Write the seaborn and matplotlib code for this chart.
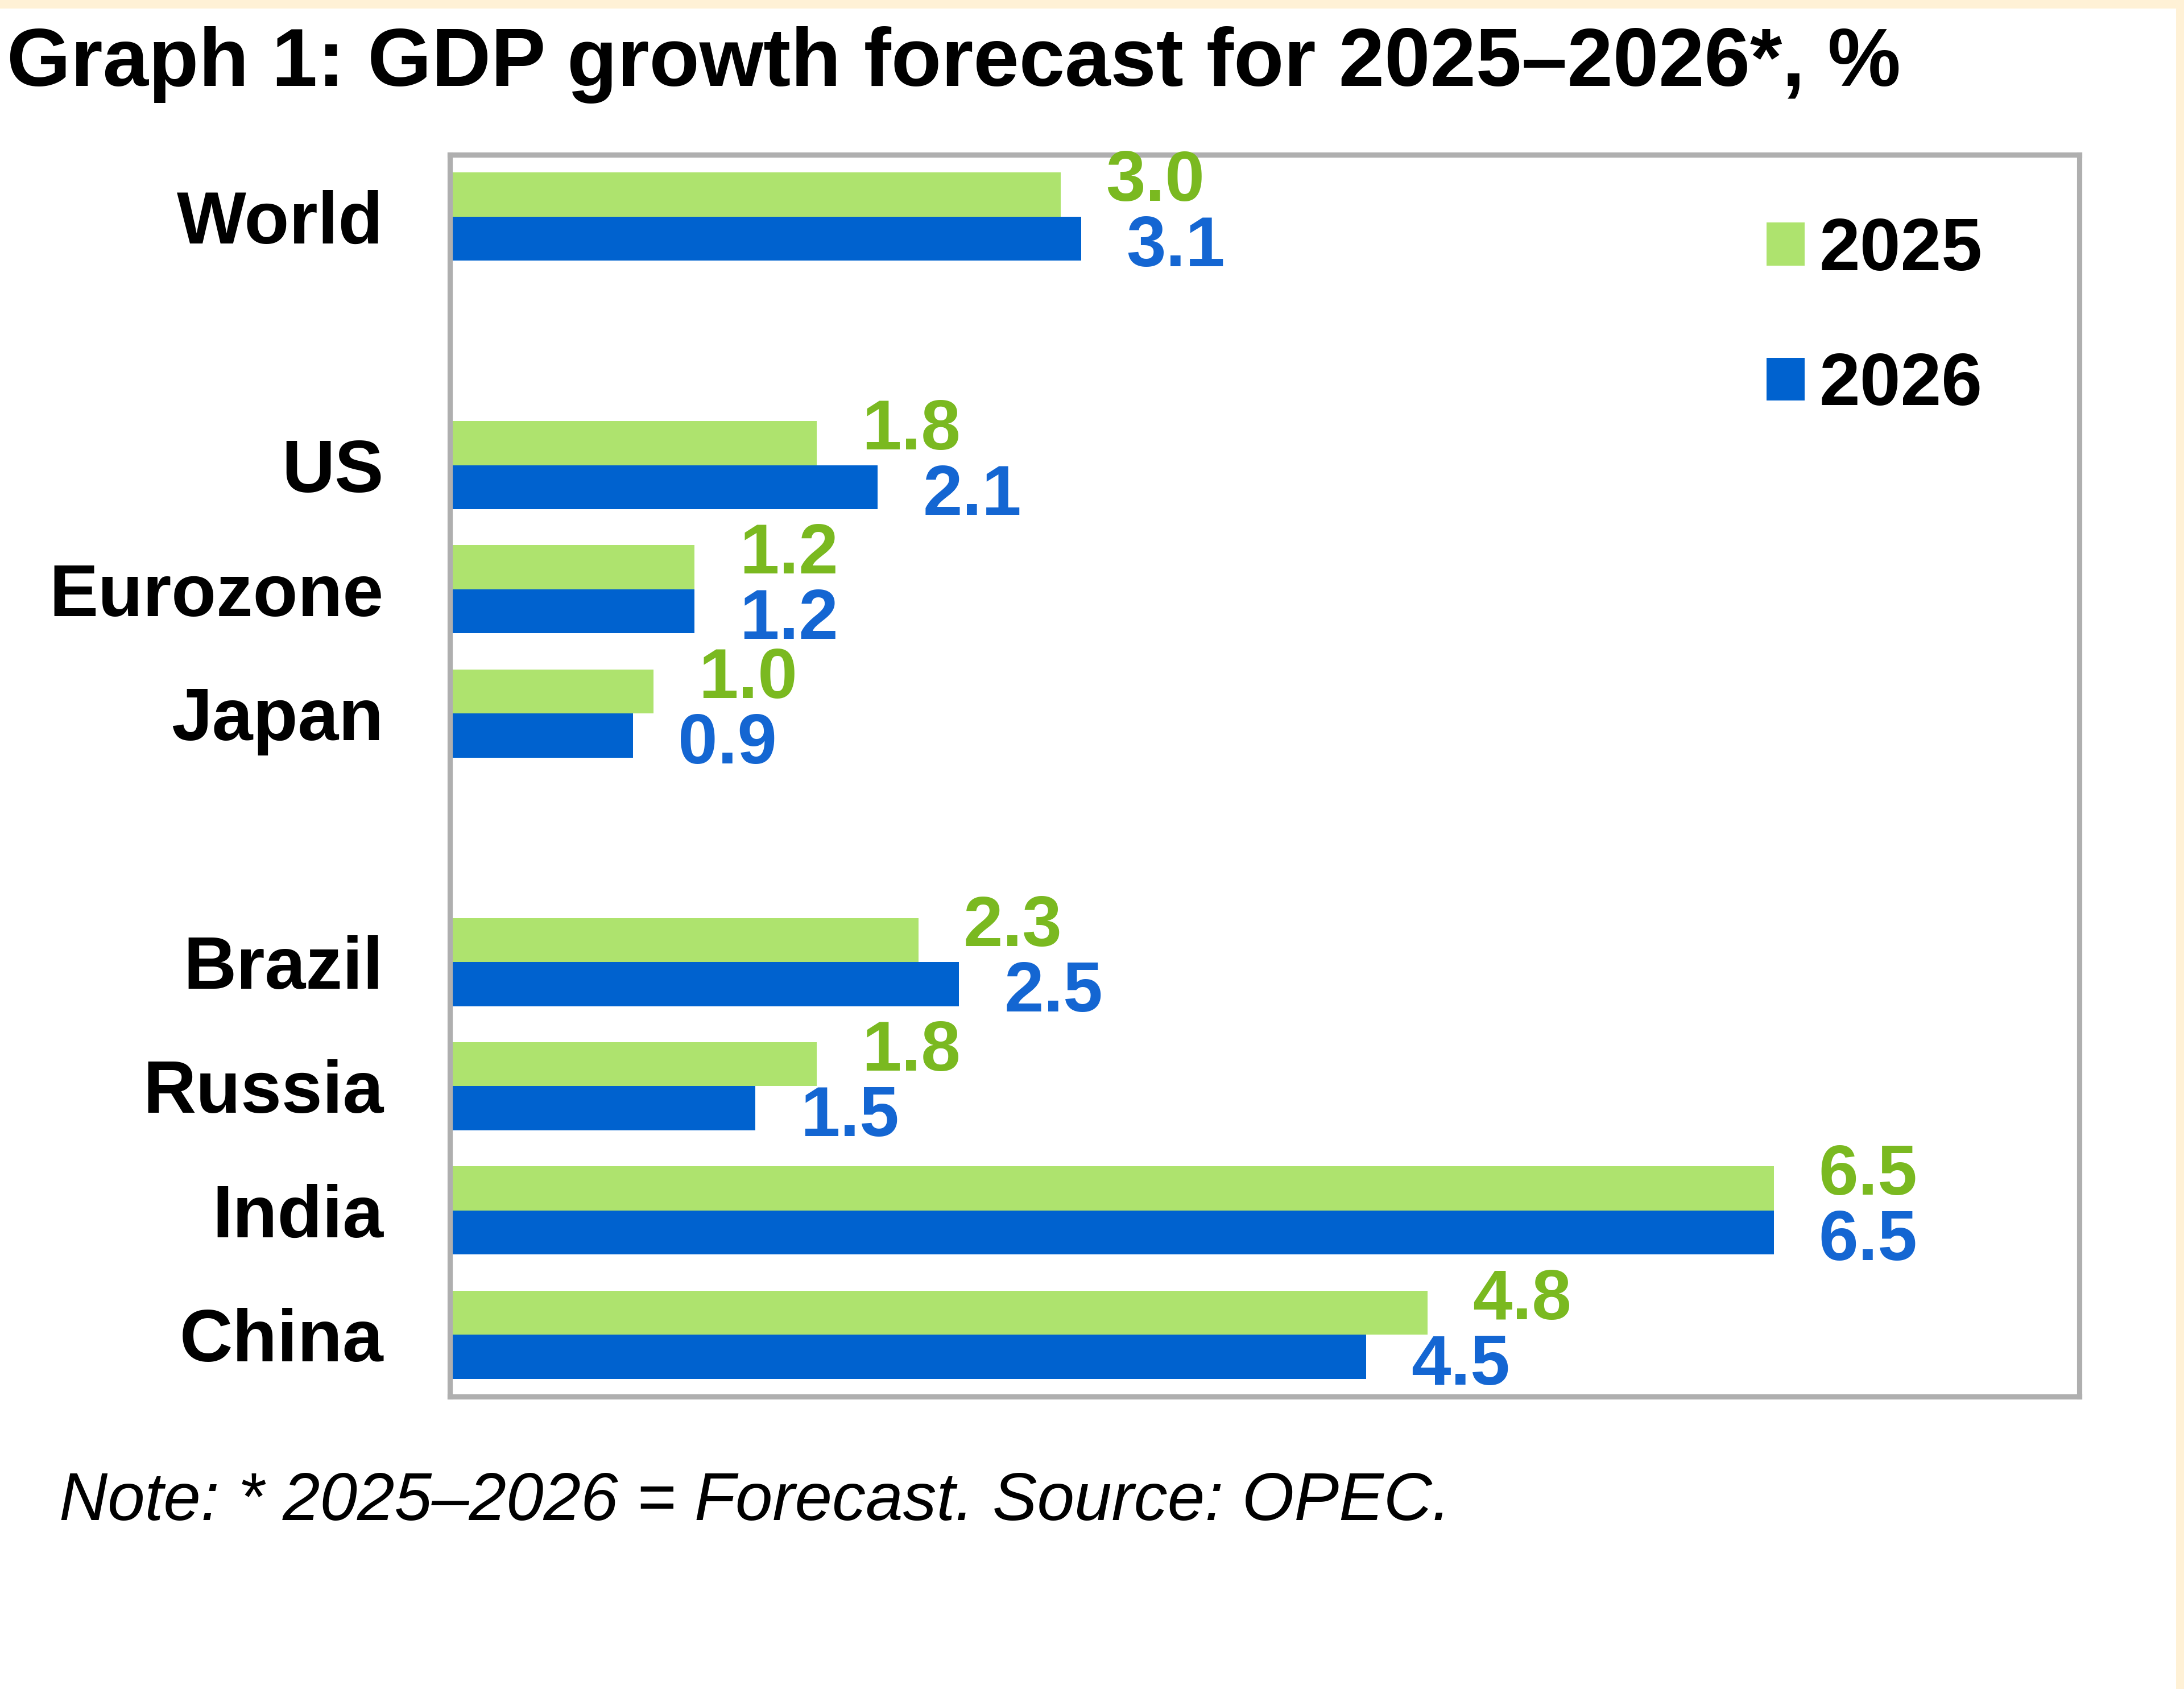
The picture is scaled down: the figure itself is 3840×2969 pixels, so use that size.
import matplotlib
matplotlib.use("Agg")
import matplotlib.pyplot as plt
from matplotlib.patches import Rectangle, Patch
import seaborn as sns
import pandas as pd

# chart values
regions = ["World", "US", "Eurozone", "Japan", "Brazil", "Russia", "India", "China"]
gdp_2025 = [3.0, 1.8, 1.2, 1.0, 2.3, 1.8, 6.5, 4.8]
gdp_2026 = [3.1, 2.1, 1.2, 0.9, 2.5, 1.5, 6.5, 4.5]
years = ["2025", "2026"]
# blank slots separate the groups of economies
slot_order = ["World", " ", "US", "Eurozone", "Japan", "  ", "Brazil", "Russia", "India", "China"]

title = "Graph 1: GDP growth forecast for 2025\u20132026*, %"
note = "Note: * 2025\u20132026 = Forecast. Source: OPEC."

bar_colors = {"2025": "#AEE36E", "2026": "#0062CF"}
label_colors = {"2025": "#7AB920", "2026": "#1466D2"}

df = pd.DataFrame({
    "region": regions * 2,
    "growth": gdp_2025 + gdp_2026,
    "year": [years[0]] * len(regions) + [years[1]] * len(regions),
})

sns.set_theme(style="white")
plt.rcParams["font.family"] = ["Liberation Sans", "DejaVu Sans"]
plt.rcParams["text.color"] = "black"

fig = plt.figure(figsize=(12.8, 2969 / 300), dpi=300)
ax = fig.add_axes([0.206, 0.173, 0.746, 0.7355])

sns.barplot(df, x="growth", y="region", hue="year", order=slot_order,
            hue_order=years, palette=bar_colors, orient="y", width=0.71,
            saturation=1, linewidth=0, ax=ax, legend=False)

ax.set_xlim(0, 8.0)
ax.set_ylim(9.5, -0.5)
ax.set_xlabel("")
ax.set_ylabel("")
ax.set_xticks([])
ax.tick_params(axis="y", length=0, pad=28, labelsize=31)
for t in ax.get_yticklabels():
    t.set_fontweight("bold")
    t.set_color("black")

for sp in ax.spines.values():
    sp.set_visible(True)
    sp.set_color("#AFAFAF")
    sp.set_linewidth(2.2)

# value labels, green nudged up and blue nudged down like the original
offsets = {"2025": 5, "2026": -4}
for year, cont in zip(years, ax.containers):
    labels = ax.bar_label(cont, fmt="%.1f", padding=19, fontsize=30,
                          fontweight="bold", color=label_colors[year])
    for lab in labels:
        lab.xyann = (19, offsets[year])

handles = [Patch(facecolor=bar_colors[y], edgecolor="none", label=y) for y in years]
leg = ax.legend(handles=handles, loc="upper left", bbox_to_anchor=(0.808, 0.95),
                frameon=False, borderpad=0, borderaxespad=0, handlelength=0.52,
                handleheight=0.52, handletextpad=0.2, labelspacing=0.9,
                prop={"size": 31, "weight": "bold"}, labelcolor="black")

fig.text(0.003, 0.949, title, fontsize=34.7, fontweight="bold", ha="left",
         va="baseline", color="black")
fig.text(0.027, 0.1, note, fontsize=28.3, fontstyle="italic", ha="left",
         va="baseline", color="black")

# beige frame strips of the screenshot
fig.patches.append(Rectangle((0, 1 - 15 / 2969), 1, 15 / 2969, transform=fig.transFigure,
                             facecolor="#FFF1D6", edgecolor="none"))
fig.patches.append(Rectangle((1 - 14 / 3840, 0), 14 / 3840, 1, transform=fig.transFigure,
                             facecolor="#FFF1D6", edgecolor="none"))

fig.savefig("out.png", dpi=300, facecolor="white")
